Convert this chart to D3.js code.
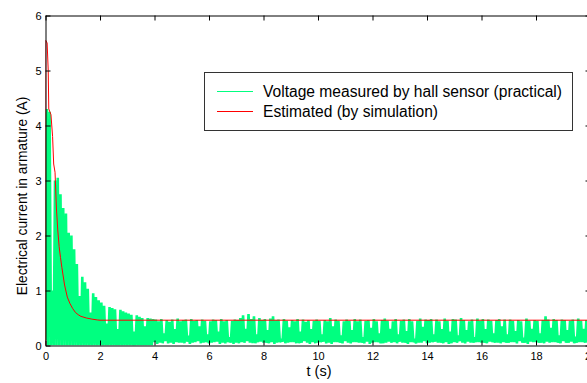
<!DOCTYPE html>
<html><head><meta charset="utf-8">
<script src="https://cdn.jsdelivr.net/npm/d3@7"></script>
<style>
body{margin:0;background:#fff;}
svg{display:block;font-family:"Liberation Sans",Arial,Helvetica,sans-serif;}
</style>
</head><body>
<svg id="chart" width="587" height="383"></svg>
<script>
// ---- data ----
const sampleStep = 0.05; // seconds between measured samples
const measured = [
 0.1,4.3,0.0,4.25,0.0,1.0,0.0,3.0,0.0,3.05,0.0,2.75,0.0,2.5,0.0,2.4,0.0,2.05,0.0,2.0,
 0.0,1.75,0.0,1.48,0.0,0.9,0.0,1.25,0.0,1.15,0.0,1.03,0.0,0.6,0.0,0.95,0.0,0.88,0.0,0.82,
 0.0,0.78,0.0,0.72,0.0,0.4,0.0,0.7,0.0,0.68,0.0,0.66,0.0,0.3,0.0,0.65,0.0,0.62,0.0,0.6,
 0.0,0.58,0.0,0.56,0.0,0.25,0.0,0.55,0.0,0.52,0.0,0.5,0.0,0.35,0.0,0.5,0.0,0.49,0.0,0.48,
 0.06,0.47,0.03,0.44,0.05,0.48,0.04,0.22,0.08,0.46,0.04,0.43,0.05,0.47,0.03,0.3,0.06,0.49,0.05,0.44,
 0.05,0.46,0.04,0.47,0.07,0.18,0.03,0.48,0.05,0.45,0.06,0.46,0.08,0.35,0.04,0.47,0.05,0.45,0.06,0.2,
 0.04,0.44,0.05,0.47,0.06,0.46,0.07,0.25,0.03,0.48,0.05,0.44,0.04,0.46,0.06,0.15,0.05,0.45,0.03,0.47,
 0.05,0.46,0.04,0.5,0.06,0.55,0.05,0.3,0.08,0.57,0.05,0.48,0.04,0.53,0.04,0.2,0.06,0.5,0.07,0.46,
 0.05,0.48,0.05,0.28,0.04,0.49,0.06,0.53,0.03,0.46,0.05,0.47,0.06,0.12,0.07,0.48,0.04,0.45,0.05,0.33,
 0.06,0.46,0.06,0.44,0.04,0.48,0.04,0.25,0.05,0.47,0.08,0.43,0.05,0.46,0.03,0.3,0.06,0.45,0.04,0.47,
 0.05,0.45,0.06,0.2,0.07,0.46,0.04,0.44,0.05,0.5,0.03,0.35,0.06,0.47,0.06,0.45,0.05,0.18,0.04,0.44,
 0.08,0.47,0.05,0.45,0.04,0.28,0.06,0.48,0.06,0.44,0.05,0.47,0.05,0.15,0.04,0.45,0.07,0.46,0.03,0.32,
 0.05,0.48,0.06,0.44,0.06,0.22,0.04,0.46,0.04,0.49,0.05,0.45,0.07,0.3,0.05,0.44,0.06,0.48,0.04,0.2,
 0.07,0.45,0.05,0.47,0.05,0.26,0.03,0.48,0.06,0.44,0.06,0.12,0.04,0.45,0.05,0.49,0.05,0.34,0.08,0.47,
 0.04,0.46,0.05,0.48,0.06,0.2,0.07,0.47,0.05,0.44,0.05,0.3,0.04,0.49,0.06,0.45,0.03,0.25,0.04,0.48,
 0.06,0.47,0.05,0.18,0.08,0.5,0.05,0.46,0.04,0.28,0.07,0.44,0.05,0.47,0.05,0.15,0.06,0.49,0.06,0.45,
 0.05,0.48,0.05,0.3,0.04,0.47,0.07,0.45,0.06,0.22,0.05,0.46,0.05,0.48,0.04,0.35,0.06,0.47,0.05,0.2,
 0.05,0.47,0.06,0.45,0.06,0.26,0.04,0.46,0.08,0.44,0.05,0.14,0.05,0.49,0.03,0.45,0.07,0.3,0.06,0.46,
 0.06,0.45,0.05,0.22,0.05,0.46,0.04,0.53,0.07,0.47,0.05,0.32,0.06,0.48,0.06,0.46,0.05,0.18,0.04,0.47,
 0.08,0.46,0.05,0.28,0.05,0.45,0.07,0.47,0.04,0.16,0.05,0.49,0.06,0.45,0.06,0.3,0.05,0.46,0.05,0.47,
 0.45
];
const estimatedT = [0,0.005,0.06,0.1,0.12,0.2,0.26,0.3,0.35,0.4,0.45,0.5,0.55,0.6,0.7,0.8,0.9,1.0,1.1,1.2,1.3,1.5,1.7,1.9,2.0,20];
const estimatedV = [0,5.55,5.5,5.0,4.3,4.2,3.8,3.3,3.15,2.5,2.1,1.8,1.6,1.42,1.1,0.88,0.76,0.67,0.6,0.56,0.53,0.5,0.48,0.465,0.46,0.46];
const xTicks = [0,2,4,6,8,10,12,14,16,18,20];
const yTicks = [0,1,2,3,4,5,6];
const legendLabels = ["Voltage measured by hall sensor (practical)", "Estimated (by simulation)"];
const seriesColors = ["#00ff80", "#ff0000"];

// ---- chart ----
const svg = d3.select("#chart");
const x = d3.scaleLinear().domain([0,20]).range([45.5,590.5]);
const y = d3.scaleLinear().domain([0,6]).range([345.5,15.5]);

svg.append("defs").append("clipPath").attr("id","plotclip")
  .append("rect").attr("x",x(0)).attr("y",y(6)).attr("width",x(20)-x(0)).attr("height",y(0)-y(6));

const plot = svg.append("g").attr("clip-path","url(#plotclip)");
const measuredPts = measured.map((v,i)=>[i*sampleStep, v]);
const line = d3.line().x(d=>x(d[0])).y(d=>y(d[1]));
plot.append("path").datum(measuredPts).attr("d", line)
  .attr("fill","none").attr("stroke",seriesColors[0]).attr("stroke-width",2.6)
  .attr("stroke-linejoin","bevel");
const estPts = estimatedT.map((t,i)=>[t, estimatedV[i]]);
plot.append("path").datum(estPts).attr("d", line)
  .attr("fill","none").attr("stroke",seriesColors[1]).attr("stroke-width",1);

// axes (MATLAB style box with inward ticks)
const tickLen = 5;
const fmt = d3.format("d");
const axB = d3.axisBottom(x).tickValues(xTicks).tickFormat(fmt).tickSizeInner(-tickLen).tickSizeOuter(0).tickPadding(7);
const axT = d3.axisTop(x).tickValues(xTicks).tickSizeInner(-tickLen).tickSizeOuter(0).tickFormat("");
const axL = d3.axisLeft(y).tickValues(yTicks).tickFormat(fmt).tickSizeInner(-tickLen).tickSizeOuter(0).tickPadding(4);
const axR = d3.axisRight(y).tickValues(yTicks).tickSizeInner(-tickLen).tickSizeOuter(0).tickFormat("");

function styleAxis(g){
  g.selectAll(".domain").attr("stroke","#000").attr("stroke-width",1);
  g.selectAll(".tick line").attr("stroke","#000");
  g.selectAll("text").attr("fill","#000").attr("font-size","11px")
    .attr("font-family","'Liberation Sans',Arial,sans-serif");
}
svg.append("g").attr("transform",`translate(0,${y(0)})`).call(axB).call(styleAxis);
svg.append("g").attr("transform",`translate(0,${y(6)})`).call(axT).call(styleAxis);
svg.append("g").attr("transform",`translate(${x(0)},0)`).call(axL).call(styleAxis);
svg.append("g").attr("transform",`translate(${x(20)},0)`).call(axR).call(styleAxis);

// axis labels
svg.append("text").attr("x",319).attr("y",376)
  .attr("text-anchor","middle").attr("font-size","14.5px").text("t (s)");
svg.append("text").attr("transform","translate(27,196) rotate(-90)")
  .attr("text-anchor","middle").attr("font-size","13.8px").text("Electrical current in armature (A)");

// legend
const lg = svg.append("g");
lg.append("rect").attr("x",204.5).attr("y",72.5).attr("width",368).attr("height",58)
  .attr("fill","#fff").attr("stroke","#333").attr("stroke-width",1);
legendLabels.forEach((lab,i)=>{
  const cy = 91.5 + i*20;
  lg.append("line").attr("x1",217).attr("x2",253).attr("y1",cy).attr("y2",cy)
    .attr("stroke",seriesColors[i]).attr("stroke-width",1);
  lg.append("text").attr("x",263).attr("y",cy+5.5).attr("font-size","15.6px").attr("fill","#000").text(lab);
});
</script>
</body></html>
